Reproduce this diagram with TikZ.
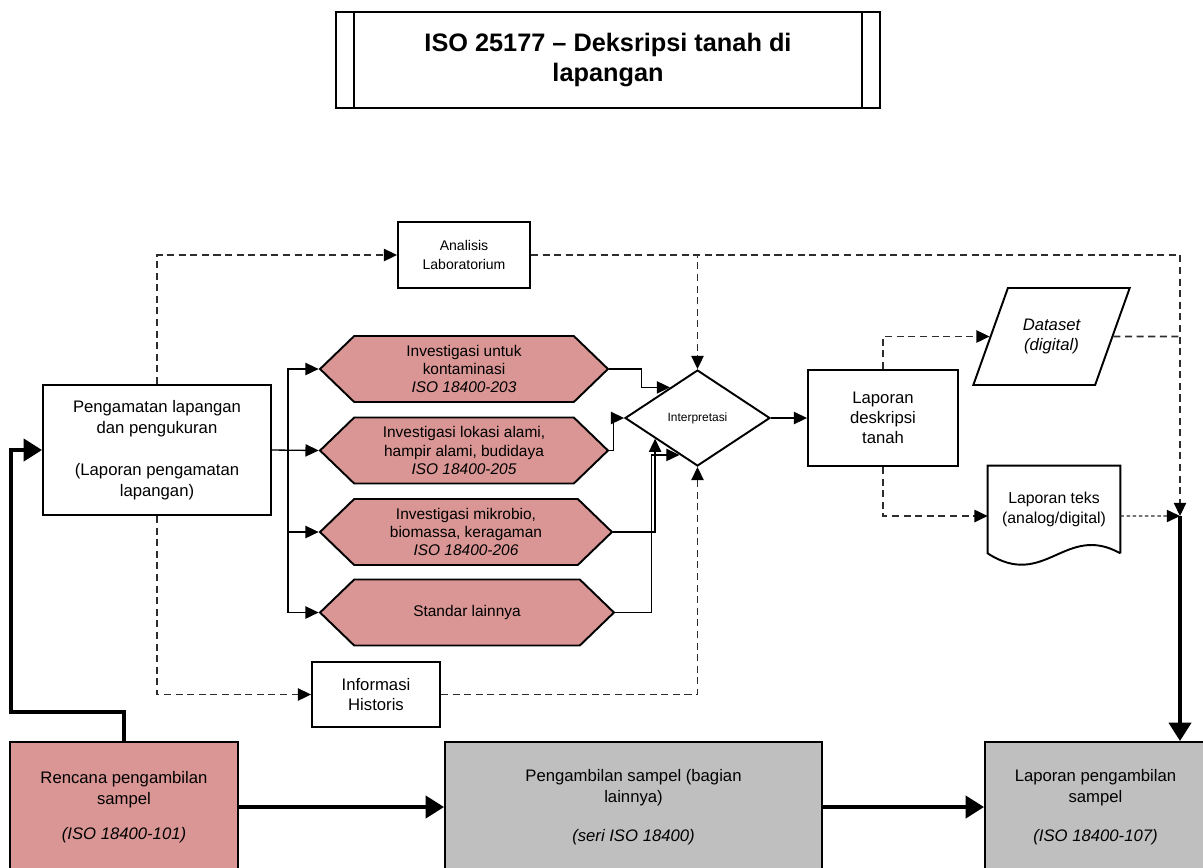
\documentclass[tikz,border=0pt]{standalone}
\usepackage{fontspec}
\setmainfont{Liberation Sans}
\usetikzlibrary{positioning,arrows.meta,shapes.geometric,shapes.symbols}

\definecolor{hexpink}{RGB}{217,150,148}
\definecolor{boxgray}{RGB}{191,191,191}
\definecolor{dashgray}{RGB}{45,45,45}

\begin{document}
\begin{tikzpicture}[x=0.02cm, y=-0.02cm,
        box/.style={draw, line width=1.1pt, align=center, inner sep=2pt, font=\fontsize{9.5}{11.9}\selectfont},
        hexa/.style={draw, line width=1.1pt, fill=hexpink, signal, signal to=west and east, signal pointer angle=88,
            minimum height=1.32cm, align=center, inner sep=0pt, font=\fontsize{8.8}{10.3}\selectfont},
        conn/.style={line width=0.75pt, -{Triangle[length=7.5pt,width=7pt]}},
        dashline/.style={line width=0.9pt, dashgray, dash pattern=on 4pt off 2.6pt},
        dashconn/.style={dashline, -{Triangle[length=7.5pt,width=7pt,color=black]}},
        fineconn/.style={line width=0.6pt, dashgray, dash pattern=on 2pt off 1.5pt, -{Triangle[length=7.5pt,width=7pt,color=black]}},
        heavy/.style={line width=2.4pt, -{Triangle[length=10.5pt,width=12.5pt]}}]
        \useasboundingbox (0,0) rectangle (1203,867);

        \node[box, minimum width=10.88cm, minimum height=1.92cm, font=\fontsize{14.4}{17.5}\selectfont\bfseries] (title) at (608,60) {ISO 25177 \textendash{} Deksripsi tanah di\\lapangan};
        \draw[line width=1.1pt] ([xshift=0.38cm]title.north west) -- ([xshift=0.38cm]title.south west);
        \draw[line width=1.1pt] ([xshift=-0.38cm]title.north east) -- ([xshift=-0.38cm]title.south east);

        \node[box, minimum width=2.64cm, minimum height=1.32cm, font=\fontsize{8}{11}\selectfont] (ana) at (464,255) {Analisis\\Laboratorium};
        \node[box, minimum width=4.56cm, minimum height=2.6cm] (obs) at (157,450) {Pengamatan lapangan\\dan pengukuran\\[11.9pt](Laporan pengamatan\\lapangan)};

        \node[hexa, minimum width=5.76cm] (hex1) at (464,369) {Investigasi untuk\\kontaminasi\\\textit{ISO 18400-203}};
        \node[hexa, minimum width=5.76cm] (hex2) at (464,450.5) {Investigasi lokasi alami,\\hampir alami, budidaya\\\textit{ISO 18400-205}};
        \node[hexa, minimum width=5.84cm] (hex3) at (466,532) {Investigasi mikrobio,\\biomassa, keragaman\\\textit{ISO 18400-206}};
        \node[hexa, minimum width=5.88cm] (hex4) at (467,612.5) {Standar lainnya};

        \node[draw, diamond, line width=1.1pt, minimum width=2.9cm, minimum height=1.92cm, inner sep=0pt, font=\fontsize{6.8}{8}\selectfont] (interp) at (697.5,418) {Interpretasi};
        \node[box, minimum width=3cm, minimum height=1.92cm, font=\fontsize{9.5}{11.3}\selectfont] (desk) at (883,418) {Laporan\\deskripsi\\tanah};

        \node[draw, line width=1.1pt, trapezium, trapezium left angle=60, trapezium right angle=120, trapezium stretches=true,
            minimum width=3.14cm, minimum height=1.94cm, align=center, font=\fontsize{9.5}{11.9}\selectfont\itshape] (data) at (1051.5,336.5) {Dataset\\(digital)};
        \node[minimum width=2.64cm, minimum height=1.74cm, align=center, font=\fontsize{9}{11}\selectfont] (teks) at (1054,509.5) {Laporan teks\\(analog/digital)};
        \draw[line width=1.1pt] (teks.south east) -- (teks.north east) -- (teks.north west) -- (teks.south west)
            .. controls +(57,37) and +(-55,-31) .. (teks.south east);
        \coordinate (join) at (1180,516);

        \node[box, minimum width=2.56cm, minimum height=1.3cm] (hist) at (376,694.5) {Informasi\\Historis};

        \node[box, fill=hexpink, minimum width=4.56cm, minimum height=2.6cm] (plan) at (124,807) {Rencana pengambilan\\sampel\\[8pt]\textit{(ISO 18400-101)}};
        \node[box, fill=boxgray, minimum width=7.54cm, minimum height=2.6cm] (samp) at (633.5,807) {Pengambilan sampel (bagian\\lainnya)\hspace*{40pt}\\[10pt]\textit{(seri ISO 18400)}};
        \node[box, fill=boxgray, minimum width=4.42cm, minimum height=2.6cm] (rep) at (1095.5,807) {Laporan pengambilan\\sampel\\[10pt]\textit{(ISO 18400-107)}};

        \coordinate (split) at ([xshift=0.32cm]obs.east);
        \draw[conn] (obs.east) -- (hex2.west);
        \foreach \h in {hex1,hex3,hex4}
            \draw[conn] (split) |- (\h.west);

        \draw[conn] (hex1.east) -- ++(32,0) |- (interp.132);
        \draw[conn] (hex2.east) -- ++(4,0) |- (interp.west);
        \draw[conn] (hex3.east) -| (interp.206);
        \draw[conn] (hex4.east) -- ++(36,0) |- (interp.244);
        \draw[conn] (interp) -- (desk);

        \draw[dashconn] (obs.north) |- (ana.west);
        \draw[dashconn] (obs.south) |- (hist.west);
        \draw[dashconn] (ana.east) -| (interp.north);
        \draw[dashconn] (ana.east) -| (join);
        \draw[dashconn] (hist.east) -| (interp.south);
        \draw[dashconn] (desk.north) |- (data);
        \draw[dashline] (data) -- (data -| join);
        \draw[dashconn] (desk.south) |- ([yshift=-0.13cm]teks.west);
        \draw[fineconn] ([yshift=-0.13cm]teks.east) -- (join);

        \draw[heavy] (plan.north) -- ++(0,-29) -| ([xshift=-0.62cm]obs.west) -- (obs.west);
        \draw[heavy] (plan) -- (samp);
        \draw[heavy] (samp) -- (rep);
        \draw[heavy] (join) -- (join |- rep.north);
\end{tikzpicture}
\end{document}
